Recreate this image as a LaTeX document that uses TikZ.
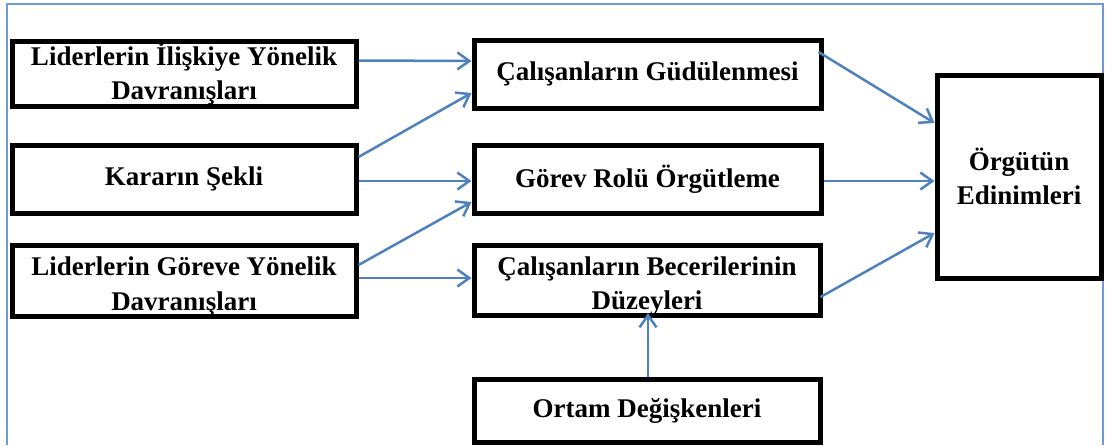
\documentclass[tikz,border=0pt]{standalone}
\usepackage{fontspec}
\setmainfont{Liberation Serif}
\usetikzlibrary{arrows.meta}
\definecolor{arrowblue}{RGB}{79,129,189}
\definecolor{frameblue}{RGB}{110,155,215}
\newcommand{\lowerstrut}{\rule{0pt}{30pt}}
\tikzset{
  box/.style={draw=black, line width=5pt, fill=white, inner sep=0pt, align=center,
              font=\fontsize{27}{34.5}\selectfont\bfseries},
  link/.style={draw=arrowblue, line width=2.5pt, -{Straight Barb[length=12pt,width=17pt,line width=2.5pt]}}
}
\begin{document}
\begin{tikzpicture}[x=1pt,y=-1pt]
\useasboundingbox (0,0) rectangle (1105,445);
\draw[frameblue, line width=1.5pt] (7,445) -- (7,4) -- (1103,4) -- (1103,445);

\node[box, minimum width=344pt, minimum height=65pt] (L1) at (184,73.5) {Liderlerin İlişkiye Yönelik\\Davranışları};
\node[box, minimum width=344pt, minimum height=68pt] (L2) at (184,179) {Kararın Şekli};
\node[box, minimum width=344pt, minimum height=64pt] (L3) at (184,281) {\lowerstrut Liderlerin Göreve Yönelik\\Davranışları};
\node[box, minimum width=347pt, minimum height=68pt] (M1) at (647.5,74) {Çalışanların Güdülenmesi};
\node[box, minimum width=347pt, minimum height=68pt] (M2) at (647.5,179) {Görev Rolü Örgütleme};
\node[box, minimum width=346pt, minimum height=63pt] (M3) at (647,280.5) {\lowerstrut Çalışanların Becerilerinin\\Düzeyleri};
\node[box, minimum width=346pt, minimum height=63pt] (B) at (647,410.5) {Ortam Değişkenleri};
\node[box, minimum width=164pt, minimum height=203pt] (R) at (1019,176.5) {Örgütün\\Edinimleri};

\draw[link] ([yshift=13pt]L1.east) -- ([yshift=13pt]M1.west);
\draw[link] ([yshift=22pt]L2.east) -- ([yshift=-19pt]M1.west);
\draw[link] ([yshift=-2pt]L2.east) -- ([yshift=-2pt]M2.west);
\draw[link] ([yshift=16pt]L3.east) -- ([yshift=-23pt]M2.west);
\draw[link] ([yshift=3pt]L3.east) -- ([yshift=2.5pt]M3.west);
\draw[link] ([xshift=1pt]B.north) -- ([xshift=1pt,yshift=5pt]M3.south);
\draw[link] ([xshift=-5pt,yshift=22pt]M1.east) -- ([yshift=53.5pt]R.west);
\draw[link] ([yshift=-2pt]M2.east) -- ([yshift=-4.5pt]R.west);
\draw[link] ([xshift=-2pt,yshift=-16.5pt]M3.east) -- ([yshift=-56.5pt]R.west);
\end{tikzpicture}
\end{document}
